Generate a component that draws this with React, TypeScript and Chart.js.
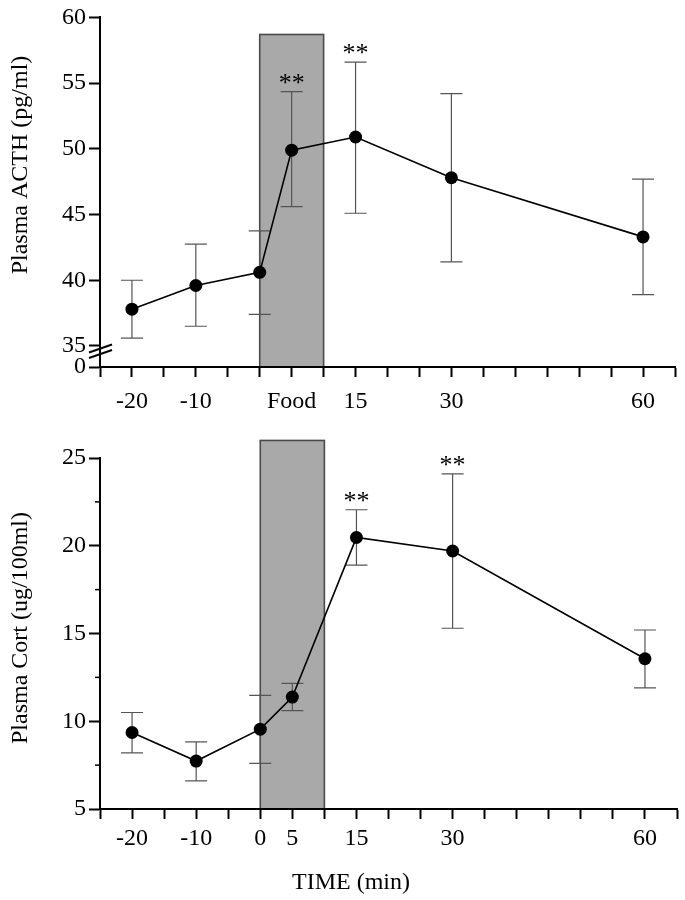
import React, { useEffect, useRef } from "react";
import { Chart, registerables } from "chart.js";

Chart.register(...registerables);

// ---------- data ----------
const timePoints = [-20, -10, 0, 5, 15, 30, 60];

const acthMean = [37.8, 39.6, 40.6, 49.9, 50.9, 47.8, 43.3];
const acthUpper = [40.0, 42.75, 43.75, 54.35, 56.6, 54.2, 47.7];
const acthLower = [35.6, 36.5, 37.4, 45.6, 45.1, 41.4, 38.9];
const acthSignificant = [5, 15];

const cortMean = [9.36, 7.73, 9.55, 11.38, 20.47, 19.7, 13.56];
const cortUpper = [10.5, 8.82, 11.48, 12.16, 22.05, 24.1, 15.2];
const cortLower = [8.2, 6.6, 7.6, 10.6, 18.9, 15.3, 11.9];
const cortSignificant = [15, 30];

const foodStart = 0;
const foodEnd = 10;
const acthFoodTop = 58.7;
const cortFoodTop = 26.0;

const xMin = -25;
const xMax = 65;
const xTickStep = 5;

const topTickValues = [-20, -10, 5, 15, 30, 60];
const topTickLabels = ["-20", "-10", "Food", "15", "30", "60"];
const bottomTickValues = [-20, -10, 0, 5, 15, 30, 60];
const bottomTickLabels = ["-20", "-10", "0", "5", "15", "30", "60"];

const acthYMin = 33.4; // axis break bottom, labelled "0"
const acthYMax = 60;
const acthYTicks = [35, 40, 45, 50, 55, 60];
const acthBreakLabel = "0";
const acthBreakValues = [34.81, 34.39];

const cortYMin = 5;
const cortYMax = 25;
const cortYTicks = [5, 10, 15, 20, 25];
const cortMinorTicks = [7.5, 12.5, 17.5, 22.5];

const acthTitle = "Plasma ACTH (pg/ml)";
const cortTitle = "Plasma Cort (ug/100ml)";
const xTitle = "TIME (min)";

// ---------- styling ----------
const FONT = "'Liberation Serif', 'Times New Roman', serif";
const W = 685;

type PanelProps = {
  top: number;
  height: number;
  padTop: number;
  axisBottom: number; // canvas y of x-axis
  mean: number[];
  upper: number[];
  lower: number[];
  significant: number[];
  foodTop: number;
  yMin: number;
  yMax: number;
  yTicks: number[];
  minorYTicks: number[];
  breakLabel: string | null;
  breakValues: number[];
  tickValues: number[];
  tickLabels: string[];
  xLabelPadding: number;
  yTitle: string;
  yTitleCenter: number;
  xTitleText: string | null;
  xTitlePos: [number, number];
};

function Panel(p: PanelProps) {
  const ref = useRef<HTMLCanvasElement | null>(null);

  useEffect(() => {
    const canvas = ref.current;
    if (!canvas) return;

    const decor = {
      id: "decor",
      beforeDraw(chart: any) {
        const { ctx, scales } = chart;
        const x = scales.x;
        const y = scales.y;
        const x0 = x.getPixelForValue(foodStart);
        const x1 = x.getPixelForValue(foodEnd);
        const yt = y.getPixelForValue(p.foodTop);
        const yb = y.getPixelForValue(p.yMin);
        ctx.save();
        ctx.fillStyle = "#a9a9a9";
        ctx.fillRect(x0, yt, x1 - x0, yb - yt);
        ctx.strokeStyle = "#4a4a4a";
        ctx.lineWidth = 1.6;
        ctx.strokeRect(x0, yt, x1 - x0, yb - yt);
        ctx.restore();
      },
      beforeDatasetsDraw(chart: any) {
        const { ctx, scales } = chart;
        const x = scales.x;
        const y = scales.y;
        ctx.save();
        ctx.strokeStyle = "#555";
        ctx.lineWidth = 1.2;
        timePoints.forEach((t, i) => {
          const px = x.getPixelForValue(t);
          const pu = y.getPixelForValue(p.upper[i]);
          const pl = y.getPixelForValue(p.lower[i]);
          ctx.beginPath();
          ctx.moveTo(px, pu);
          ctx.lineTo(px, pl);
          ctx.moveTo(px - 11, pu);
          ctx.lineTo(px + 11, pu);
          ctx.moveTo(px - 11, pl);
          ctx.lineTo(px + 11, pl);
          ctx.stroke();
        });
        ctx.restore();
      },
      afterDraw(chart: any) {
        const { ctx, scales, chartArea } = chart;
        const x = scales.x;
        const y = scales.y;
        ctx.save();
        // significance marks
        ctx.fillStyle = "#000";
        ctx.font = `26px ${FONT}`;
        ctx.textAlign = "center";
        ctx.textBaseline = "alphabetic";
        p.significant.forEach((t) => {
          const i = timePoints.indexOf(t);
          const px = x.getPixelForValue(t);
          const pu = y.getPixelForValue(p.upper[i]);
          ctx.fillText("**", px, pu - 1);
        });
        // minor y ticks
        ctx.strokeStyle = "#000";
        ctx.lineWidth = 1.5;
        p.minorYTicks.forEach((v) => {
          const py = y.getPixelForValue(v);
          ctx.beginPath();
          ctx.moveTo(chartArea.left - 5, py);
          ctx.lineTo(chartArea.left, py);
          ctx.stroke();
        });
        // axis break marks
        p.breakValues.forEach((v) => {
          const py = y.getPixelForValue(v);
          ctx.lineWidth = 2;
          ctx.beginPath();
          ctx.moveTo(chartArea.left - 11, py + 4);
          ctx.lineTo(chartArea.left + 12, py - 4);
          ctx.stroke();
        });
        // y title
        ctx.font = `24px ${FONT}`;
        ctx.textBaseline = "middle";
        ctx.translate(21, p.yTitleCenter);
        ctx.rotate(-Math.PI / 2);
        ctx.fillText(p.yTitle, 0, 0);
        ctx.restore();
        if (p.xTitleText) {
          ctx.save();
          ctx.fillStyle = "#000";
          ctx.font = `24px ${FONT}`;
          ctx.textAlign = "center";
          ctx.textBaseline = "middle";
          ctx.fillText(p.xTitleText, p.xTitlePos[0], p.xTitlePos[1]);
          ctx.restore();
        }
      },
    };

    const xTicksAll: number[] = [];
    for (let v = xMin; v <= xMax; v += xTickStep) xTicksAll.push(v);

    const chart = new Chart(canvas, {
      type: "line",
      data: {
        datasets: [
          {
            data: timePoints.map((t, i) => ({ x: t, y: p.mean[i] })),
            borderColor: "#000",
            borderWidth: 1.6,
            pointRadius: 6.5,
            pointBackgroundColor: "#000",
            pointBorderColor: "#000",
            pointBorderWidth: 0,
            tension: 0,
            fill: false,
            clip: false as any,
          },
        ],
      },
      options: {
        animation: false,
        responsive: false,
        maintainAspectRatio: false,
        events: [],
        layout: { padding: { top: p.padTop, left: 0, right: 8, bottom: 0 } },
        plugins: { legend: { display: false }, tooltip: { enabled: false }, title: { display: false } },
        scales: {
          x: {
            type: "linear",
            min: xMin,
            max: xMax,
            afterBuildTicks: (scale: any) => {
              scale.ticks = xTicksAll.map((v) => ({ value: v }));
            },
            afterFit: (scale: any) => {
              scale.height = p.height - p.axisBottom;
            },
            ticks: {
              autoSkip: false,
              maxRotation: 0,
              padding: p.xLabelPadding,
              color: "#000",
              font: { family: FONT, size: 24 },
              callback: (v: any) => {
                const i = p.tickValues.indexOf(Number(v));
                return i >= 0 ? p.tickLabels[i] : "";
              },
            },
            grid: {
              drawOnChartArea: false,
              drawTicks: true,
              tickLength: 10,
              tickColor: "#000",
              tickWidth: 2,
            },
            border: { display: true, color: "#000", width: 2 },
          },
          y: {
            type: "linear",
            min: p.yMin,
            max: p.yMax,
            afterBuildTicks: (scale: any) => {
              const vals = p.breakLabel ? [p.yMin, ...p.yTicks] : p.yTicks;
              scale.ticks = vals.map((v) => ({ value: v }));
            },
            afterFit: (scale: any) => {
              scale.width = 100;
            },
            ticks: {
              autoSkip: false,
              padding: 3,
              color: "#000",
              font: { family: FONT, size: 24 },
              callback: (v: any) => {
                if (p.breakLabel && Math.abs(Number(v) - p.yMin) < 1e-6) return p.breakLabel;
                return String(v);
              },
            },
            grid: {
              drawOnChartArea: false,
              drawTicks: true,
              tickLength: 11,
              tickColor: "#000",
              tickWidth: 2,
            },
            border: { display: true, color: "#000", width: 2 },
          },
        },
      },
      plugins: [decor],
    } as any);

    return () => chart.destroy();
  }, []);

  return (
    <canvas
      ref={ref}
      width={W}
      height={p.height}
      style={{ position: "absolute", left: 0, top: p.top, width: W, height: p.height }}
    />
  );
}

export default function App() {
  return (
    <div style={{ position: "absolute", left: 0, top: 0, width: W, height: 900, background: "#fff" }}>
      <Panel
        top={0}
        height={420}
        padTop={17}
        axisBottom={367}
        mean={acthMean}
        upper={acthUpper}
        lower={acthLower}
        significant={acthSignificant}
        foodTop={acthFoodTop}
        yMin={acthYMin}
        yMax={acthYMax}
        yTicks={acthYTicks}
        minorYTicks={[]}
        breakLabel={acthBreakLabel}
        breakValues={acthBreakValues}
        tickValues={topTickValues}
        tickLabels={topTickLabels}
        xLabelPadding={10}
        yTitle={acthTitle}
        yTitleCenter={165}
        xTitleText={null}
        xTitlePos={[0, 0]}
      />
      <Panel
        top={420}
        height={480}
        padTop={38}
        axisBottom={389}
        mean={cortMean}
        upper={cortUpper}
        lower={cortLower}
        significant={cortSignificant}
        foodTop={cortFoodTop}
        yMin={cortYMin}
        yMax={cortYMax}
        yTicks={cortYTicks}
        minorYTicks={cortMinorTicks}
        breakLabel={null}
        breakValues={[]}
        tickValues={bottomTickValues}
        tickLabels={bottomTickLabels}
        xLabelPadding={5}
        yTitle={cortTitle}
        yTitleCenter={208}
        xTitleText={xTitle}
        xTitlePos={[351, 463]}
      />
    </div>
  );
}
